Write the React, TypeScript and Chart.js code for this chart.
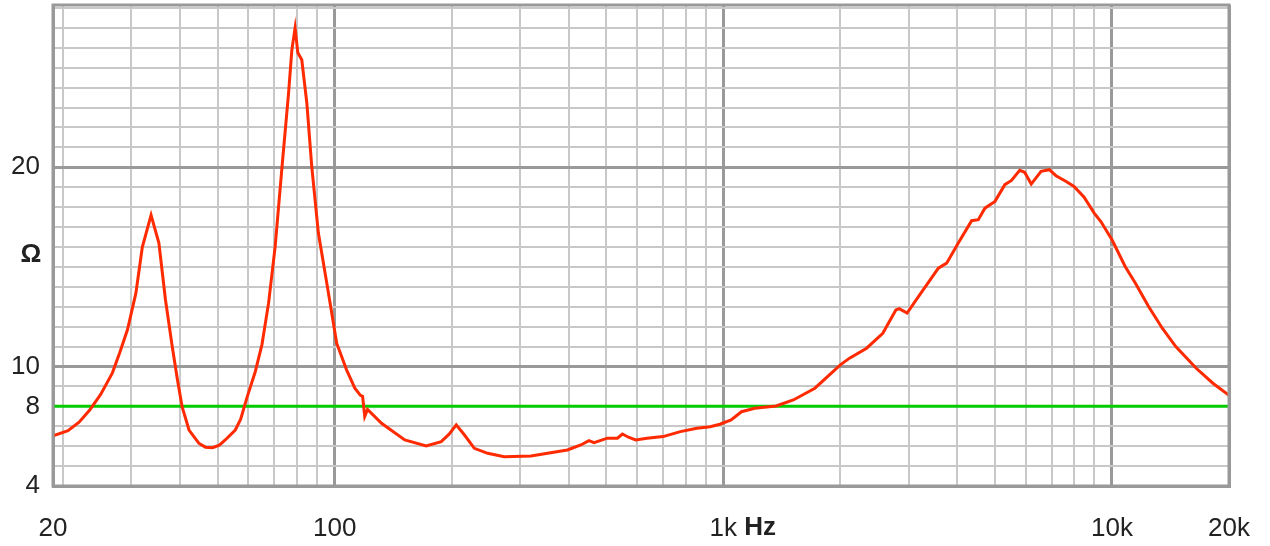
import React, { useEffect, useRef } from 'react';
import { Chart, registerables } from 'chart.js';

Chart.register(...registerables);

// Impedance curve (Hz, Ω)
const frequencies = [
  18.85, 20.6, 22.0, 23.4, 25.0, 26.8, 28.0, 29.3, 30.8, 32.0, 33.7, 35.3, 36.7, 38.2, 39.4, 40.5,
  42.2, 44.7, 46.5, 48.5, 50.5, 52.3, 55.5, 57.3, 59.5, 62.5, 65.0, 67.6, 70.3, 73.1, 76.1, 77.6,
  79.1, 80.4, 82.3, 84.8, 87.3, 90.8, 96.4, 101.2, 107.3, 112.7, 116.5, 118.0, 119.5, 121.5, 132,
  151.5, 172, 188, 197, 205.5, 215.8, 228.8, 247.6, 273, 320, 353, 397, 430, 451, 465, 503, 534,
  550, 570, 595, 636, 700, 775, 855, 925, 980, 1047, 1114, 1204, 1367, 1514, 1720, 2000, 2112,
  2337, 2572, 2779, 2834, 2970, 3177, 3575, 3755, 4023, 4354, 4529, 4710, 5000, 5300, 5512, 5788,
  5960, 6197, 6570, 6900, 7175, 7604, 7985, 8477, 9000, 9360, 10000, 10810, 11480, 12420, 13470,
  14590, 16470, 18180, 20000,
];
const impedance = [
  6.52, 6.78, 7.2, 7.8, 8.6, 9.68, 10.7, 11.84, 13.68, 16.0, 17.6, 16.2, 13.35, 11.0, 9.33, 7.98,
  6.81, 6.15, 5.95, 5.92, 6.05, 6.31, 6.81, 7.35, 8.45, 9.75, 11.1, 13.18, 16.03, 19.88, 23.73, 25.9,
  27.0, 25.75, 25.4, 23.23, 20.05, 16.7, 13.68, 11.17, 9.83, 8.91, 8.55, 8.5, 7.5, 7.85, 7.15,
  6.31, 6.01, 6.23, 6.6, 7.07, 6.56, 5.89, 5.64, 5.47, 5.51, 5.64, 5.81, 6.06, 6.28, 6.18, 6.4, 6.4,
  6.61, 6.45, 6.31, 6.4, 6.48, 6.73, 6.9, 6.98, 7.1, 7.32, 7.73, 7.9, 8.02, 8.32, 8.91, 10.08, 10.42,
  10.92, 11.67, 12.84, 12.9, 12.68, 13.51, 14.94, 15.19, 16.2, 17.32, 17.37, 17.95, 18.29, 19.13, 19.34, 19.85,
  19.75, 19.16, 19.8, 19.88, 19.58, 19.3, 19.04, 18.5, 17.7, 17.28, 16.36, 15.02, 14.19, 13.01, 11.92,
  11.0, 9.91, 9.16, 8.55,
];

const nominalImpedance = 8;

const xMin = 18.85;
const xMax = 20000;
const yMin = 4;
const yMax = 28.15;

const xGridValues = [
  xMin, 20, 30, 40, 50, 60, 70, 80, 90, 100, 200, 300, 400, 500, 600, 700, 800, 900, 1000,
  2000, 3000, 4000, 5000, 6000, 7000, 8000, 9000, 10000, 20000,
];
const xMajorValues = [100, 1000, 10000, 20000];
const xLabelValues = [xMin, 100, 1000, 10000, 20000];
const xLabelTexts = ['20', '100', '1k', '10k', '20k'];

const yGridValues = [
  4, 5, 6, 7, 8, 9, 10, 11, 12, 13, 14, 15, 16, 17, 18, 19, 20, 21, 22, 23, 24, 25, 26, 27, 28,
];
const yMajorValues = [10, 20];
const yLabelValues = [4, 8, 10, 20];

const FONT = "'Liberation Sans', Arial, Helvetica, sans-serif";
const MINOR = '#c8c8c8';
const MAJOR = '#999999';

const extraText = {
  id: 'extraText',
  afterDraw(chart: any) {
    const ctx = chart.ctx;
    const xs = chart.scales.x;
    const area = chart.chartArea;
    ctx.save();
    // frame
    ctx.strokeStyle = MAJOR;
    ctx.lineWidth = 3;
    ctx.strokeRect(area.left, area.top, area.right - area.left, area.bottom - area.top);
    // Hz unit after 1k
    ctx.font = `26px ${FONT}`;
    const w1k = ctx.measureText('1k').width;
    const sp = ctx.measureText(' ').width;
    ctx.font = `bold 26px ${FONT}`;
    ctx.fillStyle = '#222';
    ctx.textAlign = 'left';
    ctx.textBaseline = 'alphabetic';
    ctx.fillText('Hz', xs.getPixelForValue(1000) + w1k / 2 + sp, 535);
    // Ω unit
    ctx.textAlign = 'center';
    ctx.textBaseline = 'middle';
    ctx.fillText('Ω', 31, 255);
    ctx.restore();
  },
};

export default function App() {
  const ref = useRef<HTMLCanvasElement | null>(null);

  useEffect(() => {
    if (!ref.current) return;
    const points = frequencies.map((f, i) => ({ x: f, y: impedance[i] }));
    const nominal = [
      { x: xMin, y: nominalImpedance },
      { x: xMax, y: nominalImpedance },
    ];
    const chart = new Chart(ref.current, {
      type: 'line',
      data: {
        datasets: [
          {
            data: points,
            borderColor: '#ff2a00',
            borderWidth: 3,
            pointRadius: 0,
            tension: 0,
            order: 0,
          },
          {
            data: nominal,
            borderColor: '#00cc00',
            borderWidth: 3,
            pointRadius: 0,
            order: 1,
          },
        ],
      },
      options: {
        animation: false,
        responsive: false,
        layout: { padding: { top: 5, right: 41, left: 0, bottom: 0 } },
        plugins: { legend: { display: false }, tooltip: { enabled: false } },
        scales: {
          x: {
            type: 'logarithmic',
            min: xMin,
            max: xMax,
            afterBuildTicks: (s: any) => {
              s.ticks = xGridValues.map((v) => ({ value: v }));
            },
            afterFit: (s: any) => {
              s.height = 60;
              s.paddingLeft = 0;
              s.paddingRight = 0;
            },
            grid: {
              drawTicks: false,
              color: (c: any) => (xMajorValues.includes(c.tick?.value) || c.tick?.value === xMin ? MAJOR : MINOR),
              lineWidth: (c: any) => (xMajorValues.includes(c.tick?.value) || c.tick?.value === xMin ? 3 : 2),
            },
            border: { color: MAJOR, width: 3 },
            ticks: {
              autoSkip: false,
              maxRotation: 0,
              padding: 27,
              color: '#222',
              font: { family: FONT, size: 26 },
              callback: (v: any) => {
                const i = xLabelValues.indexOf(Number(v));
                return i >= 0 ? xLabelTexts[i] : '';
              },
            },
          },
          y: {
            type: 'linear',
            min: yMin,
            max: yMax,
            afterBuildTicks: (s: any) => {
              s.ticks = yGridValues.map((v) => ({ value: v }));
            },
            afterFit: (s: any) => {
              s.width = 53;
              s.paddingTop = 0;
              s.paddingBottom = 0;
            },
            grid: {
              drawTicks: false,
              color: (c: any) => (yMajorValues.includes(c.tick?.value) ? MAJOR : MINOR),
              lineWidth: (c: any) => (yMajorValues.includes(c.tick?.value) ? 3 : 2),
            },
            border: { color: MAJOR, width: 3 },
            ticks: {
              autoSkip: false,
              padding: 13,
              color: '#222',
              font: { family: FONT, size: 26 },
              callback: (v: any) => (yLabelValues.includes(Number(v)) ? String(v) : ''),
            },
          },
        },
      },
      plugins: [extraText],
    });
    return () => chart.destroy();
  }, []);

  return (
    <div style={{ position: 'absolute', left: 0, top: 0, width: 1270, height: 546, background: '#fff' }}>
      <canvas ref={ref} width={1270} height={546} style={{ display: 'block' }} />
    </div>
  );
}
